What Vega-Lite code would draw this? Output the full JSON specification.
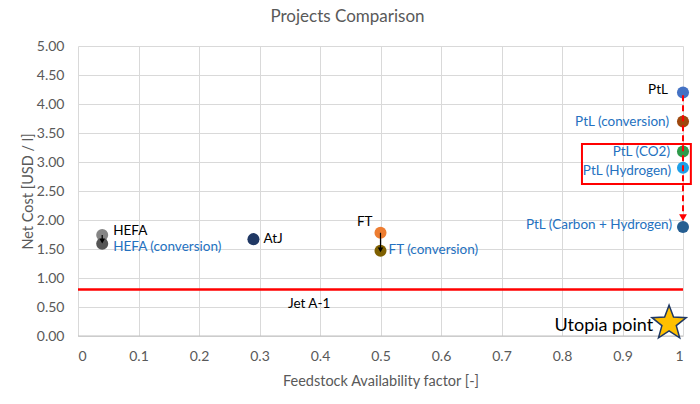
{
  "$schema": "https://vega.github.io/schema/vega-lite/v6.json",
  "width": 605,
  "height": 290,
  "autosize": {"type": "none"},
  "padding": {"left": 78, "top": 46, "right": 17, "bottom": 68},
  "background": "white",
  "config": {
    "view": {"stroke": null},
    "axis": {"labelFont": "Lato", "titleFont": "Lato", "labelColor": "#595959", "titleColor": "#595959", "labelFontSize": 14, "titleFontSize": 14.5, "titleFontWeight": "normal", "gridColor": "#d9d9d9", "tickSize": 0, "domain": false}
  },
  "title": {"text": "Projects Comparison", "fontSize": 17, "font": "Lato", "fontWeight": "normal", "color": "#595959", "anchor": "middle", "dx": -33, "offset": 13},
  "data": {"values": [
      {"name": "HEFA", "fa": 0.04, "cost": 1.74},
      {"name": "HEFA (conversion)", "fa": 0.04, "cost": 1.59},
      {"name": "AtJ", "fa": 0.29, "cost": 1.67},
      {"name": "FT", "fa": 0.5, "cost": 1.78},
      {"name": "FT (conversion)", "fa": 0.5, "cost": 1.47},
      {"name": "PtL", "fa": 1.0, "cost": 4.2},
      {"name": "PtL (conversion)", "fa": 1.0, "cost": 3.7},
      {"name": "PtL (CO2)", "fa": 1.0, "cost": 3.18},
      {"name": "PtL (Hydrogen)", "fa": 1.0, "cost": 2.9},
      {"name": "PtL (Carbon + Hydrogen)", "fa": 1.0, "cost": 1.88}
  ]},
  "encoding": {
    "x": {"field": "fa", "type": "quantitative", "scale": {"domain": [0, 1], "nice": false, "zero": false}, "axis": {"title": "Feedstock Availability factor [-]", "values": [0, 0.1, 0.2, 0.3, 0.4, 0.5, 0.6, 0.7, 0.8, 0.9, 1], "format": ".1~f", "labelPadding": 13, "titlePadding": 11}},
    "y": {"field": "cost", "type": "quantitative", "scale": {"domain": [0, 5], "nice": false}, "axis": {"title": "Net Cost [USD / l]", "values": [0, 0.5, 1, 1.5, 2, 2.5, 3, 3.5, 4, 4.5, 5], "format": ".2f", "labelPadding": 14, "titlePadding": 1}}
  },
  "layer": [
    {
      "data": {"values": [{"fa": 0, "fa2": 1, "cost": 0}]},
      "mark": {"type": "rule", "color": "#bfbfbf", "strokeWidth": 1},
      "encoding": {"x2": {"field": "fa2"}}
    },
    {
      "data": {"values": [{"fa": 0, "fa2": 1, "cost": 0.8}]},
      "mark": {"type": "rule", "color": "#ff0000", "strokeWidth": 2.5},
      "encoding": {"x2": {"field": "fa2"}}
    },
    {
      "mark": {"type": "point", "filled": true, "size": 145, "opacity": 1, "shape": "circle"},
      "encoding": {
        "color": {"field": "name", "type": "nominal", "legend": null, "scale": {
          "domain": ["HEFA", "HEFA (conversion)", "AtJ", "FT", "FT (conversion)", "PtL", "PtL (conversion)", "PtL (CO2)", "PtL (Hydrogen)", "PtL (Carbon + Hydrogen)"],
          "range": ["#858585", "#555555", "#203864", "#ed7d31", "#7f6000", "#4472c4", "#9e480e", "#2e9a4a", "#1fa0e8", "#255e91"]}}
      }
    },
    {
      "data": {"values": [{"fa": 0.04, "cost": 1.74, "cost2": 1.64}, {"fa": 0.5, "cost": 1.78, "cost2": 1.5}]},
      "mark": {"type": "rule", "color": "black", "strokeWidth": 1.2},
      "encoding": {"y2": {"field": "cost2"}}
    },
    {
      "data": {"values": [{"fa": 0.04, "cost": 1.635}, {"fa": 0.5, "cost": 1.485}]},
      "mark": {"type": "point", "shape": "triangle-down", "filled": true, "size": 30, "color": "black", "opacity": 1}
    },
    {
      "data": {"values": [{"fa": 1, "cost": 4.15, "cost2": 2.08}]},
      "mark": {"type": "rule", "color": "#ff0000", "strokeWidth": 2, "strokeDash": [6, 4]},
      "encoding": {"y2": {"field": "cost2"}}
    },
    {
      "data": {"values": [{"fa": 1, "cost": 2.04}]},
      "mark": {"type": "point", "shape": "triangle-down", "filled": true, "size": 60, "color": "#ff0000", "opacity": 1}
    },
    {
      "data": {"values": [{"fa": 0.833, "fa2": 1.013, "cost": 3.31, "cost2": 2.62}]},
      "mark": {"type": "rect", "fillOpacity": 0, "stroke": "#ff0000", "strokeWidth": 2, "clip": false},
      "encoding": {"x2": {"field": "fa2"}, "y2": {"field": "cost2"}}
    },
    {
      "data": {"values": [{"fa": 0.977, "cost": 0.22}]},
      "mark": {"type": "point", "shape": "M0,-1L0.247,-0.34L0.951,-0.309L0.399,0.13L0.588,0.809L0,0.42L-0.588,0.809L-0.399,0.13L-0.951,-0.309L-0.247,-0.34Z", "filled": true, "size": 1296, "fill": "#ffc000", "stroke": "#1f3864", "strokeWidth": 1.5, "opacity": 1}
    },
    {
      "data": {"values": [{"fa": 0.382, "cost": 0.55, "t": "Jet A-1"}]},
      "mark": {"type": "text", "font": "Lato", "fontSize": 13.5, "color": "black", "align": "center", "baseline": "middle"},
      "encoding": {"text": {"field": "t", "type": "nominal"}}
    },
    {
      "data": {"values": [{"fa": 0.977, "cost": 0.22, "t": "Utopia point"}]},
      "mark": {"type": "text", "font": "Lato", "fontSize": 18, "color": "black", "align": "right", "baseline": "middle", "dx": -16, "dy": 3},
      "encoding": {"text": {"field": "t", "type": "nominal"}}
    },
    {
      "transform": [{"filter": "datum.name == 'HEFA'"}],
      "mark": {"type": "text", "font": "Lato", "fontSize": 13.5, "color": "black", "align": "left", "baseline": "middle", "dx": 11, "dy": -4},
      "encoding": {"text": {"field": "name", "type": "nominal"}}
    },
    {
      "transform": [{"filter": "datum.name == 'HEFA (conversion)'"}],
      "mark": {"type": "text", "font": "Lato", "fontSize": 13.5, "color": "#2471c0", "align": "left", "baseline": "middle", "dx": 11, "dy": 3},
      "encoding": {"text": {"field": "name", "type": "nominal"}}
    },
    {
      "transform": [{"filter": "datum.name == 'AtJ'"}],
      "mark": {"type": "text", "font": "Lato", "fontSize": 13.5, "color": "black", "align": "left", "baseline": "middle", "dx": 10},
      "encoding": {"text": {"field": "name", "type": "nominal"}}
    },
    {
      "transform": [{"filter": "datum.name == 'FT'"}],
      "mark": {"type": "text", "font": "Lato", "fontSize": 13.5, "color": "black", "align": "right", "baseline": "middle", "dx": -8, "dy": -11},
      "encoding": {"text": {"field": "name", "type": "nominal"}}
    },
    {
      "transform": [{"filter": "datum.name == 'FT (conversion)'"}],
      "mark": {"type": "text", "font": "Lato", "fontSize": 13.5, "color": "#2471c0", "align": "left", "baseline": "middle", "dx": 8, "dy": -1},
      "encoding": {"text": {"field": "name", "type": "nominal"}}
    },
    {
      "transform": [{"filter": "datum.name == 'PtL'"}],
      "mark": {"type": "text", "font": "Lato", "fontSize": 13.5, "color": "black", "align": "right", "baseline": "middle", "dx": -15, "dy": -2},
      "encoding": {"text": {"field": "name", "type": "nominal"}}
    },
    {
      "transform": [{"filter": "datum.name == 'PtL (conversion)'"}],
      "mark": {"type": "text", "font": "Lato", "fontSize": 13.5, "color": "#2471c0", "align": "right", "baseline": "middle", "dx": -14, "dy": 1},
      "encoding": {"text": {"field": "name", "type": "nominal"}}
    },
    {
      "transform": [{"filter": "datum.name == 'PtL (CO2)'"}],
      "mark": {"type": "text", "font": "Lato", "fontSize": 13.5, "color": "#2471c0", "align": "right", "baseline": "middle", "dx": -13, "dy": 0},
      "encoding": {"text": {"field": "name", "type": "nominal"}}
    },
    {
      "transform": [{"filter": "datum.name == 'PtL (Hydrogen)'"}],
      "mark": {"type": "text", "font": "Lato", "fontSize": 13.5, "color": "#2471c0", "align": "right", "baseline": "middle", "dx": -12, "dy": 3},
      "encoding": {"text": {"field": "name", "type": "nominal"}}
    },
    {
      "transform": [{"filter": "datum.name == 'PtL (Carbon + Hydrogen)'"}],
      "mark": {"type": "text", "font": "Lato", "fontSize": 13.5, "color": "#2471c0", "align": "right", "baseline": "middle", "dx": -11, "dy": -2},
      "encoding": {"text": {"field": "name", "type": "nominal"}}
    }
  ]
}
